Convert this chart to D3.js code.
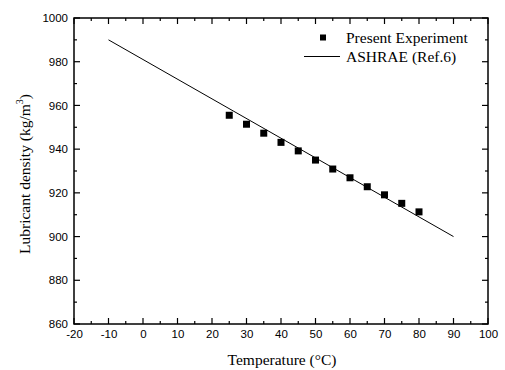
<!DOCTYPE html>
<html><head><meta charset="utf-8">
<script src="https://cdn.jsdelivr.net/npm/d3@7"></script>
<style>body{margin:0;background:#fff;} svg{display:block;}</style>
</head><body>
<script>
const expTemp = [25,30,35,40,45,50,55,60,65,70,75,80];
const expDensity = [955.5,951.4,947.3,943.1,939.2,935,930.9,926.9,922.8,919.1,915.2,911.3];
const ashraeTemp = [-10, 90];
const ashraeDensity = [990, 900];
const xTicks = [-20,-10,0,10,20,30,40,50,60,70,80,90,100];
const yTicks = [860,880,900,920,940,960,980,1000];
const legendLabels = ["Present Experiment","ASHRAE (Ref.6)"];

const W=505,H=370;
const m={l:74,t:18,r:488,b:324};
const svg=d3.select("body").append("svg").attr("width",W).attr("height",H);
const x=d3.scaleLinear().domain([-20,100]).range([m.l,m.r]);
const y=d3.scaleLinear().domain([860,1000]).range([m.b,m.t]);

const minorX=d3.range(-15,100,10), minorY=d3.range(870,1000,20);
const tf="Liberation Sans, Arial, sans-serif", sf="Liberation Serif, 'Times New Roman', serif";
const fmt=d=>String(d);

// axis labels via d3 axes (no tick lines)
svg.append("g").attr("transform",`translate(0,${m.b})`)
 .call(d3.axisBottom(x).tickValues(xTicks).tickSize(0).tickPadding(6).tickFormat(fmt));
svg.append("g").attr("transform",`translate(${m.l},0)`)
 .call(d3.axisLeft(y).tickValues(yTicks).tickSize(0).tickPadding(6).tickFormat(fmt));
svg.selectAll(".domain").remove();
svg.selectAll(".tick text").attr("font-family",tf).attr("font-size",11.5).attr("fill","#000");

// frame
svg.append("rect").attr("x",m.l).attr("y",m.t).attr("width",m.r-m.l).attr("height",m.b-m.t)
 .attr("fill","none").attr("stroke","#000").attr("stroke-width",1.5);

const tk=svg.append("g").attr("stroke","#000").attr("stroke-width",1.2);
const xt=xTicks.map(v=>[v,6]).concat(minorX.map(v=>[v,3]));
const ytk=yTicks.map(v=>[v,6]).concat(minorY.map(v=>[v,3]));
tk.selectAll("line.b").data(xt).enter().append("line")
 .attr("x1",d=>x(d[0])).attr("x2",d=>x(d[0])).attr("y1",m.b).attr("y2",d=>m.b-d[1]);
tk.selectAll("line.t").data(xt).enter().append("line")
 .attr("x1",d=>x(d[0])).attr("x2",d=>x(d[0])).attr("y1",m.t).attr("y2",d=>m.t+d[1]);
tk.selectAll("line.l").data(ytk).enter().append("line")
 .attr("y1",d=>y(d[0])).attr("y2",d=>y(d[0])).attr("x1",m.l).attr("x2",d=>m.l+d[1]);
tk.selectAll("line.r").data(ytk).enter().append("line")
 .attr("y1",d=>y(d[0])).attr("y2",d=>y(d[0])).attr("x1",m.r).attr("x2",d=>m.r-d[1]);

svg.append("path").datum(ashraeTemp.map((t,i)=>[t,ashraeDensity[i]]))
 .attr("d",d3.line().x(d=>x(d[0])).y(d=>y(d[1])))
 .attr("fill","none").attr("stroke","#000").attr("stroke-width",1);
const s=7;
svg.selectAll("rect.pt").data(expTemp.map((t,i)=>[t,expDensity[i]])).enter().append("rect")
 .attr("class","pt").attr("x",d=>x(d[0])-s/2).attr("y",d=>y(d[1])-s/2)
 .attr("width",s).attr("height",s).attr("fill","#000");

svg.append("rect").attr("x",320).attr("y",34.5).attr("width",6).attr("height",6).attr("fill","#000");
svg.append("text").attr("x",346).attr("y",42.5).text(legendLabels[0]).attr("font-family",sf).attr("font-size",15.5);
svg.append("line").attr("x1",304).attr("x2",340).attr("y1",56.5).attr("y2",56.5).attr("stroke","#000");
svg.append("text").attr("x",346).attr("y",62).text(legendLabels[1]).attr("font-family",sf).attr("font-size",15.5);

svg.append("text").attr("x",282).attr("y",365).attr("text-anchor","middle")
 .attr("font-family",sf).attr("font-size",15.5).text("Temperature (°C)");
const yt=svg.append("text").attr("transform","translate(30,174) rotate(-90)").attr("text-anchor","middle")
 .attr("font-family",sf).attr("font-size",15.5);
yt.append("tspan").text("Lubricant density (kg/m");
yt.append("tspan").attr("dy",-7).attr("font-size",10).text("3");
yt.append("tspan").attr("dy",7).text(")");
</script>
</body></html>
